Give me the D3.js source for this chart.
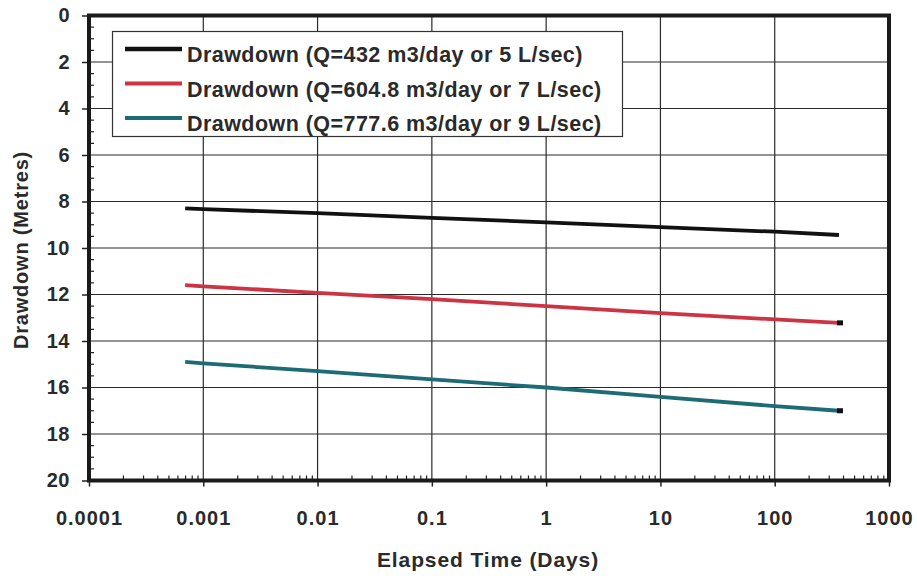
<!DOCTYPE html>
<html>
<head>
<meta charset="utf-8">
<script src="https://cdn.jsdelivr.net/npm/d3@7"></script>
<style>
  html, body { margin: 0; padding: 0; background: #fff; }
  svg { display: block; font-family: "Liberation Sans", Arial, Helvetica, sans-serif; }
</style>
</head>
<body>
<svg id="chart" width="917" height="576"></svg>
<script>
// ---- Data ----
const times = [0.000694, 0.001, 0.01, 0.1, 1, 10, 100, 365];
const drawdown5 = [8.3, 8.33, 8.5, 8.7, 8.9, 9.1, 9.3, 9.44];
const drawdown7 = [11.6, 11.65, 11.93, 12.2, 12.5, 12.8, 13.07, 13.22];
const drawdown9 = [14.9, 14.96, 15.3, 15.65, 16.0, 16.4, 16.8, 17.0];
const seriesNames = [
  "Drawdown (Q=432 m3/day or 5 L/sec)",
  "Drawdown (Q=604.8 m3/day or 7 L/sec)",
  "Drawdown (Q=777.6 m3/day or 9 L/sec)"
];
const seriesColors = ["#111111", "#cc3343", "#1d6b74"];
const xTickValues = [0.0001, 0.001, 0.01, 0.1, 1, 10, 100, 1000];
const xTickLabels = ["0.0001", "0.001", "0.01", "0.1", "1", "10", "100", "1000"];
const yTickValues = [0, 2, 4, 6, 8, 10, 12, 14, 16, 18, 20];
const xTitle = "Elapsed Time (Days)";
const yTitle = "Drawdown (Metres)";

const seriesValues = [drawdown5, drawdown7, drawdown9];

// ---- Layout ----
const W = 917, H = 576;
const margin = { left: 89, right: 28, top: 15.5, bottom: 95.5 };
const iw = W - margin.left - margin.right;
const ih = H - margin.top - margin.bottom;

const svg = d3.select("#chart");
const g = svg.append("g").attr("transform", `translate(${margin.left},${margin.top})`);

const x = d3.scaleLog().domain([0.0001, 1000]).range([0, iw]);
const y = d3.scaleLinear().domain([0, 20]).range([0, ih]);

// Gridlines
g.append("g").selectAll("line.hg")
  .data(yTickValues.filter(v => v > 0 && v < 20))
  .join("line")
  .attr("x1", 0).attr("x2", iw)
  .attr("y1", d => y(d)).attr("y2", d => y(d))
  .attr("stroke", "#2a2a2a").attr("stroke-width", 1.2);

g.append("g").selectAll("line.vg")
  .data(xTickValues.filter(v => v > 0.0001 && v < 1000))
  .join("line")
  .attr("y1", 0).attr("y2", ih)
  .attr("x1", d => x(d)).attr("x2", d => x(d))
  .attr("stroke", "#2a2a2a").attr("stroke-width", 1.2);

// Minor ticks (inside) on x axis
const minorX = [];
for (let e = -4; e < 3; e++) {
  for (let m = 2; m <= 9; m++) minorX.push(m * Math.pow(10, e));
}
g.append("g").selectAll("line")
  .data(minorX).join("line")
  .attr("x1", d => x(d)).attr("x2", d => x(d))
  .attr("y1", ih).attr("y2", ih - 5)
  .attr("stroke", "#222").attr("stroke-width", 1.2);

// Minor ticks (inside) on y axis
const minorY = d3.range(0.5, 20, 0.5).filter(v => v % 2 !== 0);
g.append("g").selectAll("line")
  .data(minorY).join("line")
  .attr("x1", 0).attr("x2", 5)
  .attr("y1", d => y(d)).attr("y2", d => y(d))
  .attr("stroke", "#222").attr("stroke-width", 1.2);

// Axes
const xAxis = d3.axisBottom(x)
  .tickValues(xTickValues)
  .tickFormat((d, i) => xTickLabels[i])
  .tickSize(6).tickPadding(24);
const gx = g.append("g").attr("transform", `translate(0,${ih})`).call(xAxis);
gx.select(".domain").remove();
gx.selectAll(".tick line").attr("stroke", "#222").attr("stroke-width", 1.5);
gx.selectAll(".tick text")
  .attr("font-size", 20).attr("font-weight", "bold")
  .attr("fill", "#2a2a2a").attr("letter-spacing", "1px");

const yAxis = d3.axisLeft(y)
  .tickValues(yTickValues)
  .tickSize(7).tickPadding(12);
const gy = g.append("g").call(yAxis);
gy.select(".domain").remove();
gy.selectAll(".tick line").attr("stroke", "#222").attr("stroke-width", 1.5);
gy.selectAll(".tick text")
  .attr("font-size", 20).attr("font-weight", "bold")
  .attr("fill", "#2a2a2a").attr("letter-spacing", "0.5px");

// Plot frame
g.append("rect")
  .attr("x", 0).attr("y", 0).attr("width", iw).attr("height", ih)
  .attr("fill", "none").attr("stroke", "#1a1a1a").attr("stroke-width", 4);

// Lines
const line = d3.line()
  .x(d => x(d[0]))
  .y(d => y(d[1]));

seriesValues.forEach((vals, i) => {
  const pts = times.map((t, j) => [t, vals[j]]);
  g.append("path")
    .datum(pts)
    .attr("fill", "none")
    .attr("stroke", seriesColors[i])
    .attr("stroke-width", 3.8)
    .attr("stroke-linejoin", "round")
    .attr("d", line);
  // small dark end marker
  const last = pts[pts.length - 1];
  if (i > 0) {
    g.append("rect")
      .attr("x", x(last[0]) - 2).attr("y", y(last[1]) - 2.5)
      .attr("width", 6).attr("height", 5)
      .attr("fill", "#111");
  }
});

// Legend
const lg = svg.append("g");
lg.append("rect")
  .attr("x", 112.5).attr("y", 31.5).attr("width", 510).attr("height", 105)
  .attr("fill", "#fff").attr("stroke", "#333").attr("stroke-width", 1.2);
seriesNames.forEach((name, i) => {
  const cy = 49 + i * 34.5;
  lg.append("line")
    .attr("x1", 125).attr("x2", 182)
    .attr("y1", cy).attr("y2", cy)
    .attr("stroke", seriesColors[i]).attr("stroke-width", i === 0 ? 4.5 : 4);
  lg.append("text")
    .attr("x", 187).attr("y", cy + 13)
    .attr("font-size", 21.5).attr("font-weight", "bold")
    .attr("letter-spacing", "0.45px")
    .attr("fill", "#2a2a2a")
    .text(name);
});

// Axis titles
svg.append("text")
  .attr("x", margin.left + iw / 2 - 1).attr("y", 567)
  .attr("text-anchor", "middle")
  .attr("font-size", 21).attr("font-weight", "bold")
  .attr("letter-spacing", "0.9px")
  .attr("fill", "#2a2a2a")
  .text(xTitle);

svg.append("text")
  .attr("transform", `translate(28,250) rotate(-90)`)
  .attr("text-anchor", "middle")
  .attr("font-size", 20).attr("font-weight", "bold")
  .attr("letter-spacing", "0.8px")
  .attr("fill", "#2a2a2a")
  .text(yTitle);
</script>
</body>
</html>
